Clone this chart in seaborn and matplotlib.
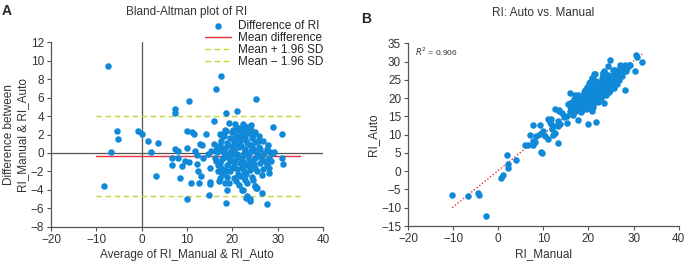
import numpy as np
import pandas as pd
import matplotlib
matplotlib.use("Agg")
import matplotlib.pyplot as plt
import seaborn as sns

# ---- data: (average, difference = manual - auto)
avg_ri = [
    -7.5, -8.4, -6.8, -5.4, -5.3, -0.7, 0.0, 1.5, 2.0, 3.5, 3.2,
    7.4, 7.4, 10.5, 9.9, 11.0, 11.6, 14.2,
    6.6, 6.8, 7.4, 8.0, 8.0, 8.4, 9.0, 9.6, 10.0, 10.1, 10.5, 10.9, 11.7, 12.2, 12.4, 12.3,
    12.6, 12.8, 13.3, 13.0, 13.5, 14.7, 15.0, 15.2, 15.0, 15.1, 14.9,
    17.6, 16.4, 25.2, 18.6, 21.1, 15.9, 19.3, 20.6, 22.4, 23.2, 24.2, 28.9,
    18.3, 20.2, 20.9, 22.4, 23.5, 24.2,
    18.7, 18.9, 22.3, 23.1, 24.0, 23.9, 25.1, 25.3, 26.6, 27.6, 28.1, 30.9, 31.1, 30.9, 29.0,
    17.3, 18.6, 20.0, 21.4, 22.3, 23.7, 25.1,
    18.1, 19.5, 20.9, 22.8, 24.3, 25.8,
    17.5, 18.8, 20.3, 21.7, 23.2, 24.9, 26.7,
    16.9, 18.4, 19.9, 21.4, 22.8, 24.3, 25.9, 27.6, 29.1,
    16.6, 18.1, 19.5, 21.0, 22.5, 23.9, 25.4, 26.9, 28.4,
    16.2, 17.7, 19.2, 20.6, 22.1, 23.6, 25.1, 26.5, 28.0,
    17.3, 18.8, 20.3, 21.7, 23.2, 24.7, 26.2, 27.6,
    18.1, 19.5, 21.0, 22.5, 23.9, 25.4, 28.0,
    16.9, 17.3, 18.8, 20.3, 21.7, 22.8, 24.3, 26.5,
    19.2, 21.4, 23.2, 25.1, 25.4, 22.1, 23.2,
    16.5, 16.9, 17.0, 17.2, 17.4, 17.7, 18.0, 18.3,
    19.0, 19.8, 20.4, 21.0, 21.5, 22.0, 22.4, 22.9, 23.4, 23.8, 24.4, 24.8,
    20.0, 21.2, 22.2, 23.0, 24.0, 25.0, 25.8, 26.0, 20.6, 21.8, 23.1, 24.5,
    19.4, 18.4, 17.8, 26.8, 27.2, 25.6, 22.6, 20.8, 18.5, 17.6, 16.5, 16.0,
    27.8, 28.6, 24.6, 21.9,
]
diff_ri = [
    9.45, -3.6, 0.15, 2.4, 1.5, 2.4, 2.1, 1.3, 0.15, 1.05, -2.5,
    4.8, 4.3, 5.6, 2.4, 2.3, 2.1, 2.1,
    -1.25, -0.5, 0.4, 0.25, -0.5, -2.75, -1.4, -0.9, 0.5, -5.0, -1.0, -3.3, 0.2, -1.2, -2.0, -0.2,
    -3.3, 0.95, 0.85, -2.5, -0.5, -0.15, -1.6, 0.2, -3.1, -3.35, -4.5,
    8.3, 6.9, 5.85, 4.3, 4.6, 3.5, 3.3, 3.1, 3.1, 2.85, 3.0, 2.8,
    2.5, 2.5, 2.45, 2.55, 2.45, 2.5,
    -5.4, -4.0, -4.05, -4.85, -4.95, -5.25, -3.6, -3.8, -4.35, -5.55, -2.15, 2.05, -1.15, -0.5, 0.0,
    2.1, 2.4, 2.3, 2.7, 2.3, 2.15, 2.3,
    1.8, 1.6, 1.8, 1.7, 1.6, 1.8,
    1.25, 1.05, 1.2, 1.25, 1.05, 1.2, 1.25,
    0.7, 0.55, 0.6, 0.7, 0.45, 0.6, 0.7, 0.45, 0.15,
    0.1, 0.0, 0.15, -0.1, 0.0, 0.1, -0.1, 0.0, 0.15,
    -0.55, -0.65, -0.5, -0.75, -0.55, -0.75, -0.55, -0.65, -0.5,
    -1.1, -1.3, -1.2, -1.1, -1.35, -1.2, -1.1, -1.3,
    -1.8, -2.0, -1.7, -1.95, -1.8, -2.0, -1.65,
    -2.0, -2.7, -2.55, -2.7, -2.45, -2.9, -2.65, -2.35,
    -3.25, -3.45, -3.25, -3.6, -3.8, -4.0, -4.7,
    0.35, -1.25, -3.05, 0.85, 1.95, -2.3, -0.5, -3.2,
    0.9, -0.2, 0.3, 1.0, -0.4, 0.8, -1.0, 0.2, -0.3, 0.9, -0.9, 0.3,
    -1.6, -2.3, -1.6, -2.3, -1.5, -1.6, -0.3, 0.4, 1.5, 1.6, 1.3, 1.9,
    -0.9, -0.3, 0.3, -1.7, -0.9, 1.3, -2.6, -3.0, -2.0, -1.6, -0.9, 1.0,
    0.9, -0.9, -2.9, 2.2,
]
mean_diff = -0.33
upper_loa = 4.0
lower_loa = -4.65
loa_x = [-10, 35]
r2_text = "0.906"

df = pd.DataFrame({"avg": avg_ri, "diff": diff_ri})
df["manual"] = df["avg"] + df["diff"] / 2
df["auto"] = df["avg"] - df["diff"] / 2

sns.set_style("white")
plt.rcParams["font.family"] = ["Liberation Sans", "DejaVu Sans"]
plt.rcParams["axes.unicode_minus"] = True

BLUE = "#1089d8"
GREY = "#555555"
fig = plt.figure(figsize=(6.86, 2.61), dpi=100)
axA = fig.add_axes([0.0743, 0.131, 0.3965, 0.707])
axB = fig.add_axes([0.5948, 0.134, 0.3946, 0.700])

fs = 8.5
ms = 22
# ---- Panel A
axA.axvline(0, color=GREY, lw=0.9, zorder=1)
axA.axhline(0, color=GREY, lw=0.9, zorder=1)
sns.scatterplot(data=df, x="avg", y="diff", ax=axA, color=BLUE, s=ms,
                linewidth=0, label="Difference of RI", zorder=3)
axA.plot(loa_x, [mean_diff] * 2, color="#e8303a", lw=1.0, label="Mean difference", zorder=2)
axA.plot(loa_x, [upper_loa] * 2, color="#c5d63a", lw=1.0, ls=(0, (4, 2.5)), label="Mean + 1.96 SD", zorder=2)
axA.plot(loa_x, [lower_loa] * 2, color="#c5d63a", lw=1.0, ls=(0, (4, 2.5)), label="Mean \u2212 1.96 SD", zorder=2)
axA.set_xlim(-20, 40)
axA.set_ylim(-8, 12)
axA.set_xticks(range(-20, 41, 10))
axA.set_yticks(range(-8, 13, 2))
axA.set_xlabel("Average of RI_Manual & RI_Auto", fontsize=fs, color="#333333", labelpad=2)
axA.set_ylabel("Difference between\nRI_Manual & RI_Auto", fontsize=fs, color="#333333", labelpad=1)
axA.set_title("Bland-Altman plot of RI", fontsize=fs, color="#333333", pad=20)
leg = axA.legend(loc="upper right", bbox_to_anchor=(1.02, 1.145), frameon=False, fontsize=fs,
                 handlelength=2.2, handletextpad=0.6, labelspacing=0.0, borderaxespad=0,
                 markerscale=1.0)

# ---- Panel B
sns.scatterplot(data=df, x="manual", y="auto", ax=axB, color=BLUE, s=ms, linewidth=0, zorder=3)
sns.regplot(data=df, x="manual", y="auto", ax=axB, scatter=False, ci=None, truncate=True,
            line_kws=dict(color="#e8303a", lw=1.0, ls=(0, (1, 1.5))))
axB.set_xlim(-20, 40)
axB.set_ylim(-15, 35)
axB.set_xticks(range(-20, 41, 10))
axB.set_yticks(range(-15, 36, 5))
axB.set_xlabel("RI_Manual", fontsize=fs, color="#333333", labelpad=2)
axB.set_ylabel("RI_Auto", fontsize=fs, color="#333333", labelpad=1)
axB.set_title("RI: Auto vs. Manual", fontsize=fs, color="#333333", pad=20)
axB.text(0.025, 0.985, "$R^2$ = " + r2_text, transform=axB.transAxes, fontsize=6,
         va="top", ha="left", color="#333333")

for ax in (axA, axB):
    for s in ("top", "right"):
        ax.spines[s].set_visible(False)
    for s in ("left", "bottom"):
        ax.spines[s].set_color(GREY)
        ax.spines[s].set_linewidth(0.9)
    ax.tick_params(axis="both", which="both", direction="out", length=3, width=0.8,
                   color=GREY, labelsize=fs, labelcolor="#333333", pad=2, left=True, bottom=True)

fig.text(0.003, 0.985, "A", fontsize=10, fontweight="bold", va="top", ha="left")
fig.text(0.527, 0.955, "B", fontsize=10, fontweight="bold", va="top", ha="left")

fig.savefig("out.png", dpi=100)
